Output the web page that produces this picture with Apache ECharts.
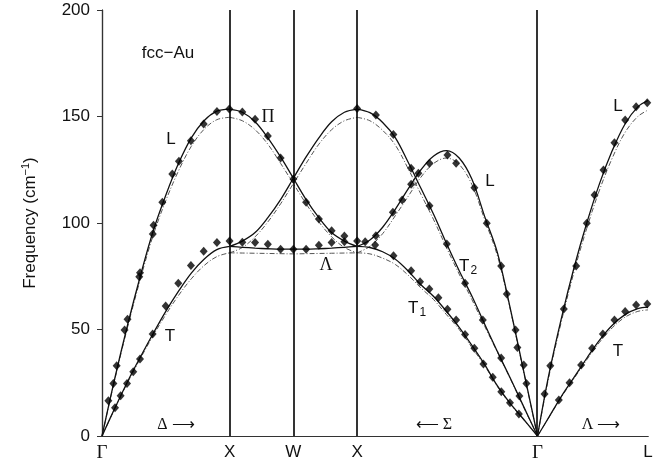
<!DOCTYPE html>
<html>
<head>
<meta charset="utf-8">
<script src="https://cdn.jsdelivr.net/npm/echarts@6/dist/echarts.min.js"></script>
<style>html,body{margin:0;padding:0;background:#fff;}#c{width:672px;height:466px;}</style>
</head>
<body>
<div id="c"></div>
<script>
// ---- symmetry points along the path (units of 2π/a) ----
const tickPos = [0, 1, 1.5, 2, 3.414, 4.28];
const tickLabels = ['Γ', 'X', 'W', 'X', 'Γ', 'L'];
const boundaryK = [1, 1.5, 2, 3.414];

// ---- k grids ----
const deltaK = [0, 0.1, 0.2, 0.3, 0.4, 0.5, 0.6, 0.7, 0.8, 0.9, 1.0];
const xwxK = [1, 1.1, 1.2, 1.3, 1.4, 1.5, 1.6, 1.7, 1.8, 1.9, 2.0];
const sigmaK = [2, 2.1, 2.2, 2.3, 2.4, 2.5, 2.6, 2.7, 2.8, 2.9, 3.0, 3.1, 3.2, 3.3, 3.414];
const lambdaK = [3.414, 3.5, 3.6, 3.7, 3.8, 3.9, 4.0, 4.1, 4.2, 4.28];

// ---- theory 1 (solid) ----
const deltaL = [0, 27, 52, 75, 96, 113, 128, 140, 148, 152.5, 153.5];
const deltaT = [0, 13, 25.5, 37, 48, 58.5, 68, 76.5, 83, 87.5, 89];
const xwxA = [153.5, 152, 147.5, 140, 131, 121, 111, 102.5, 95.5, 91.5, 89];
const xwxB = [89, 91.5, 95.5, 102.5, 111, 121, 131, 140, 147.5, 152, 153.5];
const xwxFlat = [89, 88.6, 88.2, 87.9, 87.7, 87.7, 87.7, 87.9, 88.2, 88.6, 89];
const sigmaT2 = [153.5, 151.8, 147.2, 140, 128.5, 116.3, 104, 90.5, 77.6, 65.6, 52.5, 39.6, 27.2, 14.5, 0];
const sigmaL = [89, 92, 98, 106.5, 116, 125, 131.5, 134, 130.5, 120.5, 103, 86, 60, 32, 0];
const sigmaT1 = [89, 88.5, 86.5, 83, 77.5, 71, 65.5, 58.5, 51, 42.5, 33.5, 23.5, 15.3, 8.2, 0];
const lambdaL = [0, 28, 55, 79, 100, 118.5, 134, 146.5, 154.5, 157.5];
const lambdaT = [0, 8.5, 18.5, 27.5, 36.5, 45, 52, 57, 59.8, 60.5];

// ---- theory 2 (dash-dot) ----
const deltaLdd = [0, 26.5, 51, 73.5, 94, 110.5, 124.5, 136, 144, 148.5, 149.6];
const deltaTdd = [0, 12.8, 25, 36.3, 47, 57, 66, 73.8, 80, 84.2, 86];
const xwxAdd = [149.6, 148, 143.8, 137, 128, 118.5, 109, 100.5, 93.5, 88.5, 86];
const xwxBdd = [86, 88.5, 93.5, 100.5, 109, 118.5, 128, 137, 143.8, 148, 149.6];
const xwxFlatdd = [86, 85.9, 85.8, 85.7, 85.6, 85.5, 85.6, 85.7, 85.8, 85.9, 86];
const sigmaT2dd = [149.6, 148, 143.5, 136.5, 125.5, 113.5, 101.5, 88.5, 76, 64, 51.5, 39.3, 27, 14.2, 0];
const sigmaLdd = [86, 89, 95, 103.5, 112.5, 121.5, 128, 130.5, 127.5, 118, 101.5, 84.5, 59.5, 31.5, 0];
const sigmaT1dd = [86, 85.5, 83.5, 80.5, 75.5, 69.5, 64, 57, 50, 41.5, 33, 23.2, 15, 8, 0];
const lambdaLdd = [0, 27, 53.5, 77, 97.5, 115.5, 130.5, 142.5, 150, 153];
const lambdaTdd = [0, 8.4, 18.2, 27, 35.8, 44, 50.8, 55.8, 58.5, 59.2];

// ---- experiment (diamonds), [k, frequency] ----
const expDeltaL = [[0.05,16.6],[0.089,24.7],[0.115,33],[0.177,49.8],[0.2,54.8],[0.292,74.8],[0.298,76.7],[0.398,94.8],[0.404,99],[0.473,109.7],[0.551,123],[0.603,129],[0.697,138.6],[0.797,146.5],[0.901,152.4],[0.998,153.5]];
const expDeltaT = [[0.102,13.3],[0.146,18.9],[0.196,24.7],[0.245,30.2],[0.298,36.2],[0.397,47.9],[0.499,61],[0.598,71.7],[0.697,80.1],[0.797,86.7],[0.901,90.8],[1.0,91.5]];
const expXWX = [[1.1,152.1],[1.2,148.7],[1.3,140.8],[1.4,130.5],[1.5,120.7],[1.6,109.7],[1.7,101.9],[1.8,96.4],[1.9,93.9],[2.0,153.8]];
const expFlat = [[1.1,91],[1.2,90.8],[1.3,90],[1.4,87.7],[1.5,87.7],[1.6,87.7],[1.7,89.5],[1.8,90.8],[1.9,91.2],[2.0,91.5]];
const expSigmaT2 = [[2.147,150.7],[2.284,141.6],[2.423,125.7],[2.567,108.1],[2.703,90.1],[2.846,71.7],[2.985,54.5],[3.129,36.6],[3.272,18.8]];
const expSigmaL = [[2.147,94],[2.28,105],[2.353,110.8],[2.423,118.2],[2.48,123.3],[2.567,128],[2.708,131.9],[2.776,128],[2.919,116.6],[3.016,99.9],[3.129,79.8],[3.173,66.7],[3.242,49.8],[3.256,41.6],[3.306,33.3],[3.327,24.7]];
const expSigmaT1 = [[2.063,91.2],[2.141,89.7],[2.285,84.6],[2.423,77.6],[2.493,72.4],[2.566,69],[2.637,64.9],[2.708,59.5],[2.776,54.5],[2.846,47.7],[2.919,41.2],[2.99,33.8],[3.063,27.6],[3.13,20.8],[3.198,15.6],[3.268,10.3]];
const expLambdaL = [[3.469,19.7],[3.514,33],[3.62,59.6],[3.717,79.8],[3.8,99.9],[3.861,113.1],[3.931,124.9],[4.017,137.7],[4.101,148.4],[4.187,154.6],[4.274,156.5]];
const expLambdaT = [[3.581,16.9],[3.665,25],[3.756,33.3],[3.842,41.2],[3.926,47.9],[4.017,54.5],[4.101,58.4],[4.187,61.5],[4.274,62]];

const yTicks = [0, 50, 100, 150, 200];

function pairs(ks, vs) { return ks.map((k, i) => [k, vs[i]]); }

const SANS = 'Liberation Sans, Arial, Helvetica, sans-serif';
const SERIF = 'Liberation Serif, Times New Roman, serif';

const solidSets = [[deltaK, deltaL], [deltaK, deltaT], [xwxK, xwxA], [xwxK, xwxB], [xwxK, xwxFlat],
  [sigmaK, sigmaT2], [sigmaK, sigmaL], [sigmaK, sigmaT1], [lambdaK, lambdaL], [lambdaK, lambdaT]];
const ddSets = [[deltaK, deltaLdd], [deltaK, deltaTdd], [xwxK, xwxAdd], [xwxK, xwxBdd], [xwxK, xwxFlatdd],
  [sigmaK, sigmaT2dd], [sigmaK, sigmaLdd], [sigmaK, sigmaT1dd], [lambdaK, lambdaLdd], [lambdaK, lambdaTdd]];
const expSets = [expDeltaL, expDeltaT, expXWX, expFlat, expSigmaT2, expSigmaL, expSigmaT1, expLambdaL, expLambdaT];

const series = [];
series.push({
  type: 'line', data: [], silent: true, z: 3,
  markLine: {
    silent: true, symbol: ['none', 'none'], label: { show: false },
    lineStyle: { color: '#000', width: 1.6, type: 'solid' },
    data: boundaryK.map(k => ({ xAxis: k }))
  }
});
ddSets.forEach(s => series.push({
  type: 'line', data: pairs(s[0], s[1]), smooth: 0.35, showSymbol: false, silent: true, z: 4,
  lineStyle: { color: '#555', width: 1, type: [5, 2, 1, 2] }
}));
solidSets.forEach(s => series.push({
  type: 'line', data: pairs(s[0], s[1]), smooth: 0.35, showSymbol: false, silent: true, z: 5,
  lineStyle: { color: '#111', width: 1.3 }
}));
expSets.forEach(s => series.push({
  type: 'scatter', data: s, symbol: 'diamond', symbolSize: [8, 9], silent: true, z: 6,
  itemStyle: { color: '#000' }
}));

function txt(x, y, text, font, size, extra) {
  return Object.assign({
    type: 'text', x: x, y: y, silent: true, z: 10,
    style: { text: text, font: size + 'px ' + font, fill: '#111', align: 'center', verticalAlign: 'middle' }
  }, extra || {});
}
function subTxt(x, y, main, sub) {
  return {
    type: 'text', x: x, y: y, silent: true, z: 10,
    style: {
      text: '{m|' + main + '}{s|' + sub + '}', align: 'left', verticalAlign: 'middle', fill: '#111',
      rich: {
        m: { fontFamily: SANS, fontSize: 17, fill: '#111', lineHeight: 20 },
        s: { fontFamily: SANS, fontSize: 12, fill: '#111', padding: [10, 0, 0, 1], lineHeight: 20 }
      }
    }
  };
}

const graphics = [
  txt(168, 53, 'fcc−Au', SANS, 17),
  txt(171, 139, 'L', SANS, 17),
  txt(268, 117, 'Π', SERIF, 18),
  txt(490, 181, 'L', SANS, 17),
  txt(618, 106, 'L', SANS, 17),
  txt(170, 336, 'T', SANS, 17),
  txt(326, 265, 'Λ', SERIF, 18),
  txt(618, 351, 'T', SANS, 17),
  subTxt(459, 266, 'T', '2'),
  subTxt(408, 308, 'T', '1'),
  txt(176, 425, 'Δ ⟶', SERIF, 16),
  txt(434, 425, '⟵ Σ', SERIF, 16),
  txt(601, 425, 'Λ ⟶', SERIF, 16)
];

const chart = echarts.init(document.getElementById('c'), null, { renderer: 'canvas' });
chart.setOption({
  animation: false,
  backgroundColor: '#fff',
  grid: { left: 102, right: 24, top: 10, bottom: 30, containLabel: false },
  xAxis: [{
    type: 'value', min: 0, max: 4.28, position: 'bottom',
    axisLine: { show: true, lineStyle: { color: '#333', width: 1.2 } },
    axisTick: { show: false },
    splitLine: { show: false },
    axisLabel: {
      customValues: tickPos, margin: 8, color: '#111',
      formatter: function (v) {
        let i = tickPos.findIndex(p => Math.abs(p - v) < 1e-6);
        if (i < 0) return '';
        const t = tickLabels[i];
        return t === 'Γ' ? '{g|' + t + '}' : '{s|' + t + '}';
      },
      rich: {
        g: { fontFamily: SERIF, fontSize: 19, color: '#111' },
        s: { fontFamily: SANS, fontSize: 17, color: '#111' }
      }
    }
  }, {
    type: 'value', min: 0, max: 4.28, position: 'top',
    axisLine: { show: true, lineStyle: { color: '#333', width: 1.2 } },
    axisTick: { show: false }, axisLabel: { show: false }, splitLine: { show: false }
  }],
  yAxis: [{
    type: 'value', min: 0, max: 200, interval: 50, position: 'left',
    name: 'Frequency (cm{sup|−1})', nameLocation: 'middle', nameGap: 62, nameRotate: 90,
    nameTextStyle: {
      fontFamily: SANS, fontSize: 17, color: '#111',
      rich: { sup: { fontFamily: SANS, fontSize: 11, color: '#111', padding: [0, 0, 9, 0] } }
    },
    axisLine: { show: true, lineStyle: { color: '#333', width: 1.2 } },
    axisTick: { show: true, length: 5, inside: false, lineStyle: { color: '#333' } },
    splitLine: { show: false },
    axisLabel: { margin: 12, fontFamily: SANS, fontSize: 17, color: '#111',
      formatter: v => (yTicks.indexOf(v) >= 0 ? String(v) : '') }
  }, {
    type: 'value', min: 0, max: 200, interval: 50, position: 'right',
    axisLine: { show: true, lineStyle: { color: '#333', width: 1.2 } },
    axisTick: { show: true, inside: true, length: 5, lineStyle: { color: '#333' } },
    axisLabel: { show: false }, splitLine: { show: false }
  }],
  graphic: graphics,
  series: series
});
</script>
</body>
</html>
